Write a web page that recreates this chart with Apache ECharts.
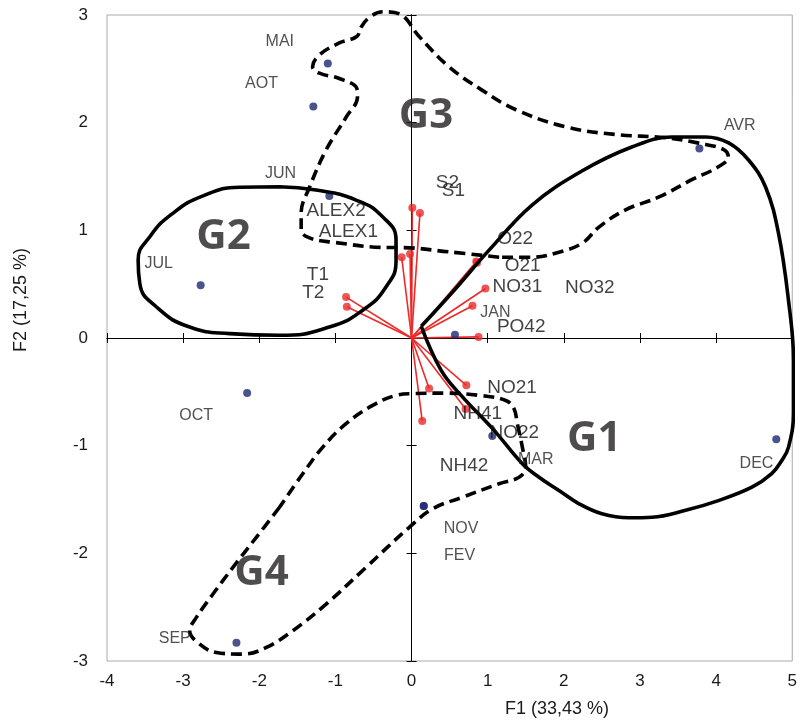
<!DOCTYPE html>
<html><head><meta charset="utf-8">
<script src="https://cdn.jsdelivr.net/npm/echarts@6/dist/echarts.min.js"></script>
<style>html,body{margin:0;padding:0;background:#fff}#c{width:800px;height:722px}</style>
</head><body><div id="c"></div>
<script>
// Months (observations)
const monthNames = ['MAI','AOT','JUN','JUL','OCT','SEP','NOV','FEV','DEC','AVR','JAN','MAR'];
const monthX = [-1.10,-1.29,-1.08,-2.77,-2.16,-2.30,0.16,0.16,4.79,3.78,0.57,1.06];
const monthY = [2.55,2.15,1.32,0.49,-0.51,-2.83,-1.56,-1.56,-0.94,1.76,0.03,-0.91];
const monthLabelX = [-1.73,-1.97,-1.72,-3.32,-2.83,-3.11,0.65,0.63,4.53,4.31,1.10,1.63];
const monthLabelY = [2.75,2.36,1.53,0.69,-0.72,-2.79,-1.77,-2.02,-1.17,1.97,0.24,-1.13];

// Variables (vectors)
const varNames = ['S2','S1','ALEX2','ALEX1','T1','T2','O22','O21','NO31','NO32','PO42','NO21','NH41','NO22','NH42'];
const varX = [0.01,0.11,-0.02,-0.13,-0.86,-0.85,0.85,0.86,0.97,0.80,0.88,0.72,0.71,0.23,0.14];
const varY = [1.21,1.16,0.78,0.75,0.38,0.29,0.71,0.70,0.46,0.30,0.01,-0.44,-0.66,-0.47,-0.77];
const varLabelX = [0.47,0.55,-0.99,-0.83,-1.23,-1.29,1.36,1.46,1.39,2.34,1.44,1.32,0.87,1.35,0.69];
const varLabelY = [1.44,1.37,1.18,0.99,0.59,0.42,0.92,0.67,0.48,0.47,0.10,-0.46,-0.70,-0.88,-1.19];

// Groups
const groupNames = ['G1','G2','G3','G4'];
const groupLabelX = [2.40,-2.47,0.19,-1.97];
const groupLabelY = [-0.94,0.94,2.06,-2.18];
const g1Outline = [[0.127,0.109],[0.56,0.444],[1.018,0.816],[1.582,1.235],[2.237,1.551],[2.892,1.774],[3.417,1.867],[3.862,1.867],[4.164,1.812],[4.426,1.653],[4.649,1.402],[4.819,0.974],[4.95,0.351],[5.016,-0.207],[5.016,-0.70],[4.95,-1.016],[4.86,-1.14],[4.73,-1.26],[4.47,-1.386],[4.03,-1.51],[3.60,-1.60],[3.16,-1.665],[2.85,-1.67],[2.50,-1.633],[2.20,-1.54],[1.936,-1.416],[1.674,-1.293],[1.455,-1.168],[1.084,-0.858],[0.651,-0.533],[0.389,-0.3],[0.127,0.109]];
const g2Outline = [[-1.734,1.405],[-1.253,1.374],[-0.729,1.281],[-0.380,1.126],[-0.204,0.909],[-0.204,0.723],[-0.336,0.474],[-0.642,0.258],[-1.079,0.102],[-1.734,0.025],[-2.390,0.041],[-2.914,0.102],[-3.350,0.288],[-3.569,0.506],[-3.591,0.723],[-3.438,0.940],[-3.150,1.150],[-2.739,1.320],[-2.258,1.400],[-1.734,1.405]];
const g3Outline = [[1.15,0.75],[0.49,0.80],[-0.16,0.84],[-0.29,0.84],[-1.04,0.89],[-1.34,0.93],[-1.45,1.00],[-1.45,1.16],[-1.34,1.40],[-1.12,1.75],[-0.86,2.05],[-0.71,2.24],[-0.72,2.32],[-0.95,2.41],[-1.21,2.46],[-1.30,2.52],[-1.21,2.63],[-0.95,2.74],[-0.72,2.80],[-0.66,2.89],[-0.55,2.98],[-0.38,3.03],[-0.16,3.01],[0.10,2.80],[0.49,2.52],[0.93,2.30],[1.37,2.12],[2.03,1.96],[2.68,1.89],[3.34,1.86],[3.77,1.81],[4.10,1.75],[4.16,1.68],[4.03,1.59],[3.68,1.47],[3.25,1.31],[2.81,1.19],[2.46,1.03],[2.24,0.88],[1.90,0.79],[1.58,0.75],[1.15,0.75]];
const g4Outline = [[-1.734,-1.572],[-2.039,-1.851],[-2.346,-2.130],[-2.608,-2.378],[-2.826,-2.595],[-2.914,-2.719],[-2.782,-2.843],[-2.564,-2.921],[-2.215,-2.936],[-1.908,-2.874],[-1.560,-2.719],[-1.122,-2.471],[-0.598,-2.130],[-0.030,-1.758],[0.275,-1.587],[0.668,-1.479],[1.149,-1.354],[1.411,-1.293],[1.499,-1.200],[1.455,-1.014],[1.389,-0.796],[1.346,-0.657],[1.237,-0.580],[0.887,-0.533],[0.451,-0.512],[0.013,-0.517],[-0.204,-0.533],[-0.511,-0.626],[-0.860,-0.796],[-1.166,-1.014],[-1.429,-1.261],[-1.734,-1.572]];

const X_MIN=-4, X_MAX=5, Y_MIN=-3, Y_MAX=3;
const FONT='Liberation Sans, Arial, sans-serif';

function xAx(extra){ return Object.assign({type:'value',min:X_MIN,max:X_MAX,interval:1,position:'bottom',splitLine:{show:false}}, extra); }
function yAx(extra){ return Object.assign({type:'value',min:Y_MIN,max:Y_MAX,interval:1,position:'left',splitLine:{show:false}}, extra); }

const chart = echarts.init(document.getElementById('c'), null, {renderer:'canvas'});
function outline(data, dashed, smooth){
  return {type:'line', data:data, xAxisIndex:0, yAxisIndex:0, smooth:smooth, showSymbol:false, symbol:'none', clip:false, silent:true, z:5,
    lineStyle:{color:'#000', width:3.6, type: dashed ? [11,6] : 'solid', cap:'butt', join:'round'}};
}
function labelSeries(names, xs, ys, size, color, weight, family, z){
  return {type:'scatter', xAxisIndex:0, yAxisIndex:0, silent:true, symbolSize:1, z:z, clip:false,
    itemStyle:{color:'rgba(0,0,0,0)'},
    data: names.map((n,i)=>({name:n, value:[xs[i], ys[i]]})),
    label:{show:true, position:'inside', formatter:'{b}', fontSize:size, color:color, fontWeight:weight, fontFamily:family}};
}
chart.setOption({
  animation:false,
  grid:{left:107, top:15, width:686, height:646, show:true, borderColor:'#a9a9a9', borderWidth:1, backgroundColor:'#fff'},
  xAxis:[
    xAx({axisLine:{show:false,onZero:false}, axisTick:{show:false}, axisLabel:{fontSize:17,color:'#1a1a1a',margin:12,fontFamily:FONT}}),
    xAx({axisLine:{show:true,onZero:true,onZeroAxisIndex:0,lineStyle:{color:'#000',width:1}}, axisTick:{show:true,length:5,lineStyle:{color:'#000'}}, axisLabel:{show:false}}),
    xAx({axisLine:{show:true,onZero:true,onZeroAxisIndex:0,lineStyle:{color:'#000',width:1}}, axisTick:{show:true,inside:true,length:5,lineStyle:{color:'#000'}}, axisLabel:{show:false}})
  ],
  yAxis:[
    yAx({axisLine:{show:false,onZero:false}, axisTick:{show:false}, axisLabel:{fontSize:17,color:'#1a1a1a',margin:19,fontFamily:FONT}}),
    yAx({axisLine:{show:true,onZero:true,onZeroAxisIndex:0,lineStyle:{color:'#000',width:1}}, axisTick:{show:true,length:5,lineStyle:{color:'#000'}}, axisLabel:{show:false}}),
    yAx({axisLine:{show:true,onZero:true,onZeroAxisIndex:0,lineStyle:{color:'#000',width:1}}, axisTick:{show:true,inside:true,length:5,lineStyle:{color:'#000'}}, axisLabel:{show:false}})
  ],
  graphic:[
    {type:'text', x:557, y:709, style:{text:'F1 (33,43 %)', fontSize:18, fontFamily:FONT, fill:'#1a1a1a', align:'center', verticalAlign:'middle'}},
    {type:'text', x:21, y:300, rotation:Math.PI/2, style:{text:'F2 (17,25 %)', fontSize:18, fontFamily:FONT, fill:'#1a1a1a', align:'center', verticalAlign:'middle'}}
  ],
  series:[
    {type:'lines', coordinateSystem:'cartesian2d', xAxisIndex:0, yAxisIndex:0, silent:true, z:2,
      data: varX.map((x,i)=>({coords:[[0,0],[x,varY[i]]]})),
      lineStyle:{color:'#ec2a2a', width:1.6, opacity:1}},
    {type:'scatter', xAxisIndex:0, yAxisIndex:0, silent:true, z:3, symbolSize:8,
      itemStyle:{color:'#ec2a2a'}, data: varX.map((x,i)=>[x,varY[i]])},
    {type:'scatter', xAxisIndex:0, yAxisIndex:0, silent:true, z:3, symbolSize:8,
      itemStyle:{color:'#1d2870'}, data: monthX.map((x,i)=>[x,monthY[i]])},
    outline(g1Outline,false,0.4),
    outline(g2Outline,false,0.5),
    outline(g3Outline,true,0.4),
    outline(g4Outline,true,0.4),
    labelSeries(monthNames, monthLabelX, monthLabelY, 16, '#262626', 'normal', FONT, 6),
    labelSeries(varNames, varLabelX, varLabelY, 19, '#111', 'normal', FONT, 6),
    labelSeries(groupNames, groupLabelX, groupLabelY, 42, '#231f20', 'bold', 'Open Sans, sans-serif', 7)
  ]
});
</script></body></html>
